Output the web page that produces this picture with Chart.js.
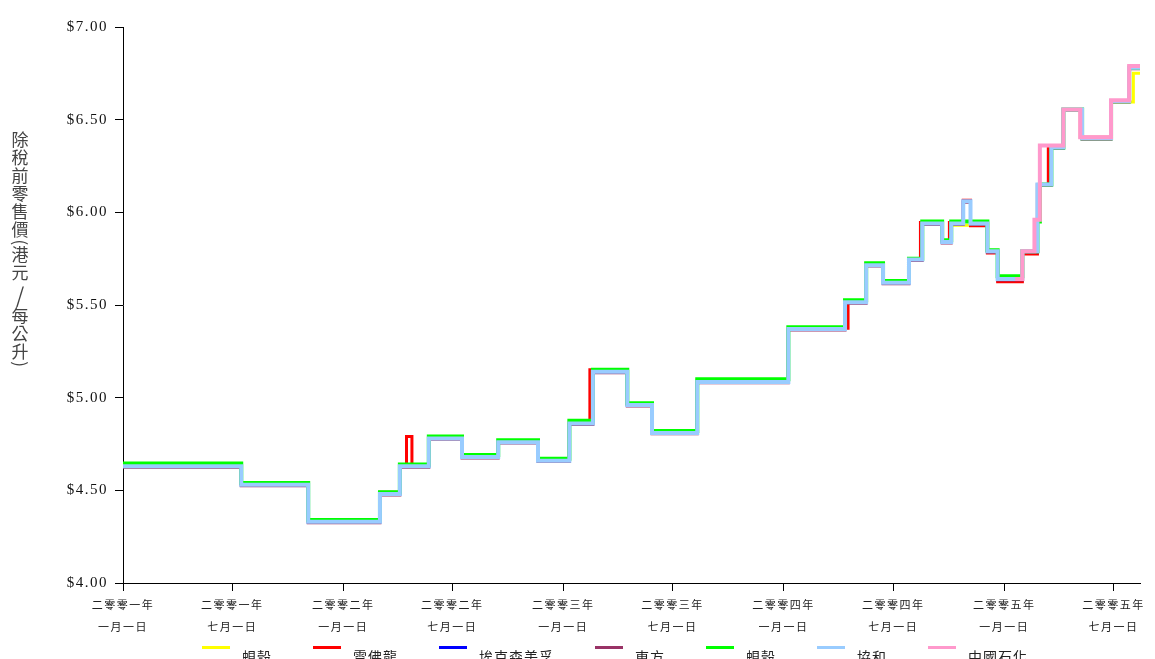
<!DOCTYPE html>
<html>
<head>
<meta charset="utf-8">
<script src="https://cdn.jsdelivr.net/npm/chart.js@4.4.1/dist/chart.umd.min.js"></script>
<style>
  html, body { margin: 0; padding: 0; background: #fff; overflow: hidden; }
  canvas { display: block; }
</style>
</head>
<body>
<canvas id="fuel" width="1155" height="659"></canvas>
<script>
// dates on which at least one company changed its price
var dates = [
  '2001-01-01', '2001-07-16', '2001-11-04', '2002-03-03', '2002-04-05', '2002-04-16',
  '2002-04-25', '2002-05-23', '2002-07-17', '2002-09-15', '2002-11-20', '2003-01-11',
  '2003-02-14', '2003-02-19', '2003-04-17', '2003-05-28', '2003-08-11', '2004-01-09',
  '2004-04-12', '2004-04-17', '2004-05-17', '2004-06-14', '2004-07-27', '2004-08-15',
  '2004-08-18', '2004-09-20', '2004-10-02', '2004-10-05', '2004-10-25', '2004-11-06',
  '2004-12-04', '2004-12-21', '2005-01-19', '2005-01-31', '2005-02-20', '2005-02-25',
  '2005-03-01', '2005-03-15', '2005-03-20', '2005-04-09', '2005-05-07', '2005-05-10',
  '2005-06-27', '2005-07-27', '2005-08-03', '2005-08-14'
];

// pump prices before tax (HK$ / litre), one value per date above
var shellYellow = [4.635, 4.535, 4.335, 4.485, 4.635, 4.635, 4.635, 4.785, 4.685, 4.765, 4.665, 4.865,
  4.865, 5.145, 4.965, 4.815, 5.09, 5.375, 5.52, 5.52, 5.72, 5.625, 5.75, 5.75,
  5.945, 5.845, 5.845, 5.93, 5.93, 5.93, 5.79, 5.645, 5.645, 5.79, 5.79, 6.15,
  6.15, 6.15, 6.35, 6.555, 6.555, 6.40, 6.595, 6.595, 6.75, 6.75];
var chevron = [4.64, 4.535, 4.335, 4.49, 4.635, 4.79, 4.635, 4.785, 4.685, 4.765, 4.665, 4.87,
  5.15, 5.15, 4.965, 4.815, 5.09, 5.375, 5.375, 5.52, 5.72, 5.625, 5.75, 5.945,
  5.945, 5.845, 5.945, 5.945, 6.065, 5.928, 5.78, 5.625, 5.625, 5.775, 5.775, 6.15,
  6.15, 6.36, 6.36, 6.555, 6.405, 6.405, 6.60, 6.78, 6.78, 6.78];
var exxon = [4.63, 4.53, 4.33, 4.48, 4.63, 4.63, 4.63, 4.78, 4.68, 4.76, 4.66, 4.86,
  4.86, 5.14, 4.96, 4.81, 5.085, 5.37, 5.515, 5.515, 5.715, 5.62, 5.745, 5.745,
  5.94, 5.84, 5.84, 5.94, 6.06, 5.94, 5.79, 5.64, 5.64, 5.79, 5.79, 6.15,
  6.15, 6.15, 6.35, 6.555, 6.555, 6.40, 6.60, 6.78, 6.78, 6.78];
var oriental = [4.625, 4.525, 4.325, 4.475, 4.625, 4.625, 4.625, 4.775, 4.675, 4.755, 4.655, 4.855,
  4.855, 5.135, 4.955, 4.805, 5.08, 5.365, 5.51, 5.51, 5.71, 5.615, 5.74, 5.74,
  5.935, 5.835, 5.835, 5.935, 6.055, 5.935, 5.785, 5.635, 5.635, 5.785, 5.785, 6.145,
  6.145, 6.145, 6.345, 6.55, 6.55, 6.395, 6.595, 6.775, 6.775, 6.775];
var shellGreen = [4.645, 4.54, 4.34, 4.49, 4.64, 4.64, 4.64, 4.79, 4.69, 4.77, 4.67, 4.875,
  4.875, 5.15, 4.97, 4.82, 5.10, 5.38, 5.525, 5.525, 5.725, 5.63, 5.75, 5.75,
  5.95, 5.85, 5.85, 5.95, 5.95, 5.95, 5.795, 5.655, 5.655, 5.79, 5.79, 5.95,
  6.15, 6.15, 6.35, 6.555, 6.555, 6.40, 6.60, 6.78, 6.78, 6.78];
var concord = [4.63, 4.53, 4.33, 4.48, 4.63, 4.63, 4.63, 4.78, 4.68, 4.76, 4.66, 4.86,
  4.86, 5.14, 4.96, 4.81, 5.085, 5.37, 5.515, 5.515, 5.715, 5.62, 5.745, 5.745,
  5.94, 5.84, 5.84, 5.94, 6.06, 5.94, 5.79, 5.64, 5.64, 5.79, 5.79, 6.15,
  6.15, 6.15, 6.35, 6.555, 6.555, 6.40, 6.60, 6.78, 6.78, 6.78];
var sinopec = [null, null, null, null, null, null, null, null, null, null, null, null,
  null, null, null, null, null, null, null, null, null, null, null, null,
  null, null, null, null, null, null, null, null, 5.64, 5.79, 5.96, 5.96,
  6.36, 6.36, 6.36, 6.555, 6.405, 6.405, 6.605, 6.79, 6.79, 6.79];

var seriesNames = ['蜆殼', '雪佛龍', '埃克森美孚', '東方', '蜆殼', '協和', '中國石化'];
var seriesColors = ['#ffff00', '#ff0000', '#0000ff', '#993366', '#00ff00', '#99ccff', '#ff99cc'];

var tickDates = ['2001-01-01', '2001-07-01', '2002-01-01', '2002-07-01', '2003-01-01',
  '2003-07-01', '2004-01-01', '2004-07-01', '2005-01-01', '2005-07-01'];
var tickYears = ['二零零一年', '二零零一年', '二零零二年', '二零零二年', '二零零三年',
  '二零零三年', '二零零四年', '二零零四年', '二零零五年', '二零零五年'];
var tickDays = ['一月一日', '七月一日', '一月一日', '七月一日', '一月一日',
  '七月一日', '一月一日', '七月一日', '一月一日', '七月一日'];
var yTitle = '除稅前零售價(港元/每公升)';

function toDay(s) {
  var p = s.split('-');
  return (Date.UTC(+p[0], +p[1] - 1, +p[2]) - Date.UTC(2001, 0, 1)) / 86400000;
}
function points(values) {
  return dates.map(function (d, i) { return { x: toDay(d), y: values[i] }; });
}

var allSeries = [shellYellow, chevron, exxon, oriental, shellGreen, concord, sinopec];
var widths = [3, 3, 3, 3, 4, 4, 4];
// pink on top, then light blue, green, ...
var drawOrder = [6, 5, 4, 3, 2, 1, 0];

var datasets = allSeries.map(function (vals, i) {
  return {
    label: seriesNames[i],
    data: points(vals),
    borderColor: seriesColors[i],
    backgroundColor: seriesColors[i],
    borderWidth: widths[i],
    stepped: true,
    pointRadius: 0,
    fill: false,
    borderJoinStyle: 'miter',
    order: drawOrder[i]
  };
});

// letter spacing like the original labels
var spacingPlugin = {
  id: 'spacing',
  beforeLayout: function (chart) { chart.ctx.letterSpacing = '1.5px'; },
  beforeDraw: function (chart) { chart.ctx.letterSpacing = '1.5px'; }
};

// vertical (stacked) axis title
var titlePlugin = {
  id: 'yTitle',
  afterDraw: function (chart) {
    var ctx = chart.ctx;
    ctx.save();
    ctx.letterSpacing = '0px';
    ctx.font = '17px "Noto Sans CJK TC"';
    ctx.fillStyle = '#444';
    ctx.textAlign = 'center';
    ctx.textBaseline = 'middle';
    var x = 20, y = 131.5;
    Array.from(yTitle).forEach(function (ch) {
      if (ch === '(' || ch === ')') {
        var w = ctx.measureText(ch).width;
        ctx.save();
        ctx.translate(x, y + w / 2);
        ctx.rotate(Math.PI / 2);
        ctx.fillText(ch, 0, 0);
        ctx.restore();
        y += w + 1;
      } else if (ch === '/') {
        ctx.save();
        ctx.font = '21px "Noto Sans CJK TC"';
        ctx.fillText(ch, x, y + 12.5);
        ctx.restore();
        y += 25;
      } else {
        ctx.fillText(ch, x, y + 8.5);
        y += 18;
      }
    });
    ctx.restore();
  }
};

// legend strip under the axis
var legendPlugin = {
  id: 'bottomLegend',
  afterDraw: function (chart) {
    var ctx = chart.ctx;
    var sets = chart.data.datasets;
    ctx.save();
    ctx.letterSpacing = '1px';
    ctx.font = '14px "Noto Sans CJK TC"';
    ctx.textBaseline = 'middle';
    ctx.textAlign = 'left';
    var gap = 41, sample = 28, toText = 12;
    var tw = sets.map(function (ds) { return ctx.measureText(ds.label).width; });
    var total = tw.reduce(function (a, b) { return a + b; }, 0) + sets.length * (sample + toText) + (sets.length - 1) * gap;
    var x = 615 - total / 2;
    sets.forEach(function (ds, i) {
      ctx.fillStyle = ds.borderColor;
      ctx.fillRect(x, 646, sample, 3);
      ctx.fillStyle = '#222';
      ctx.fillText(ds.label, x + sample + toText, 657);
      x += sample + toText + tw[i] + gap;
    });
    ctx.restore();
  }
};

new Chart(document.getElementById('fuel'), {
  type: 'line',
  data: { datasets: datasets },
  plugins: [spacingPlugin, titlePlugin, legendPlugin],
  options: {
    responsive: false,
    animation: false,
    events: [],
    layout: { padding: { top: 27, right: 15, bottom: 0, left: 0 } },
    plugins: { legend: { display: false }, tooltip: { enabled: false } },
    scales: {
      x: {
        type: 'linear',
        min: 0,
        max: toDay('2005-08-14'),
        afterFit: function (s) { s.height = 76; },
        afterBuildTicks: function (s) {
          s.ticks = tickDates.map(function (d) { return { value: toDay(d) }; });
        },
        grid: { drawOnChartArea: false, tickLength: 8, color: '#000' },
        border: { color: '#000', width: 1 },
        ticks: {
          autoSkip: false,
          maxRotation: 0,
          padding: 3,
          color: '#222',
          font: { family: '"Noto Sans CJK TC"', size: 11, lineHeight: '22px' },
          callback: function (v, i) { return [tickYears[i], tickDays[i]]; }
        }
      },
      y: {
        min: 4,
        max: 7,
        afterFit: function (s) { s.width = 123; },
        grid: { drawOnChartArea: false, tickLength: 8, color: '#000' },
        border: { color: '#000', width: 1 },
        ticks: {
          stepSize: 0.5,
          padding: 7,
          color: '#111',
          font: { family: '"Liberation Serif"', size: 15 },
          callback: function (v) { return '$' + v.toFixed(2); }
        }
      }
    }
  }
});
</script>
</body>
</html>
